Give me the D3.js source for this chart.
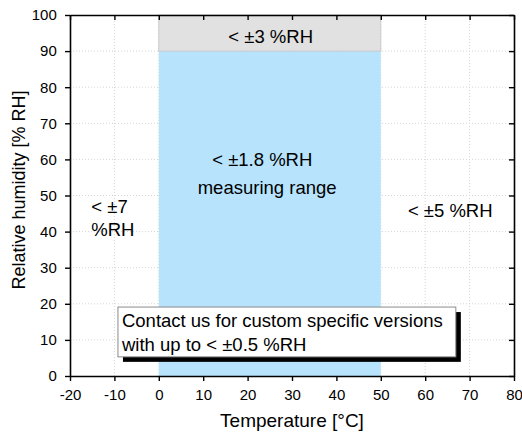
<!DOCTYPE html>
<html>
<head>
<meta charset="utf-8">
<script src="https://cdn.jsdelivr.net/npm/d3@7"></script>
<style>
  body { margin: 0; background: #fff; }
  text { font-family: "Liberation Sans", Arial, sans-serif; fill: #000; }
</style>
</head>
<body>
<svg id="chart" width="522" height="439"></svg>
<script>
// axis ticks
var xTicks = [-20, -10, 0, 10, 20, 30, 40, 50, 60, 70, 80];
var yTicks = [0, 10, 20, 30, 40, 50, 60, 70, 80, 90, 100];

// shaded accuracy regions [temp from, temp to, RH from, RH to]
var regionNames = ["measuring", "high humidity"];
var regionBounds = [[0, 50, 0, 90], [0, 50, 90, 100]];
var regionColors = ["#b7e3fd", "#e1e1e1"];

// annotation texts and their positions in data units [temp, RH]
var labelTexts = ["< \u00b13 %RH", "< \u00b11.8 %RH", "measuring range", "< \u00b17", "%RH", "< \u00b15 %RH"];
var labelPos = [[25.2, 92.2], [23.3, 58.2], [24.4, 50.4], [-15.2, 45.1], [-15.2, 38.7], [56.1, 44]];
var labelAnchor = ["middle", "middle", "middle", "start", "start", "start"];

// note box
var noteLines = ["Contact us for custom specific versions", "with up to < \u00b10.5 %RH"];
var noteBox = [-9.2, 66.9, 5.3, 19.1];

var svg = d3.select("#chart");
var margin = {left: 70, top: 15, right: 8, bottom: 63};
var W = 522, H = 439;

var x = d3.scaleLinear().domain([-20, 80]).range([margin.left, W - margin.right]);
var y = d3.scaleLinear().domain([0, 100]).range([H - margin.bottom, margin.top]);

// grid
var grid = svg.append("g").attr("stroke", "#d6d6d6").attr("stroke-width", 1).attr("stroke-dasharray", "1,2");
grid.selectAll("line.vx").data(xTicks.slice(1, -1)).enter().append("line")
  .attr("x1", function(d) { return x(d); }).attr("x2", function(d) { return x(d); })
  .attr("y1", y(0)).attr("y2", y(100));
grid.selectAll("line.hy").data(yTicks.slice(1, -1)).enter().append("line")
  .attr("y1", function(d) { return y(d); }).attr("y2", function(d) { return y(d); })
  .attr("x1", x(-20)).attr("x2", x(80));

// regions
svg.append("g").selectAll("rect").data(regionBounds).enter().append("rect")
  .attr("x", function(d) { return x(d[0]); })
  .attr("width", function(d) { return x(d[1]) - x(d[0]); })
  .attr("y", function(d) { return y(d[3]); })
  .attr("height", function(d) { return y(d[2]) - y(d[3]); })
  .attr("fill", function(d, i) { return regionColors[i]; })
  .attr("stroke", function(d, i) { return i == 1 ? "#c4c4c4" : "none"; })
  .attr("stroke-width", 0.8);

// axes (plain hyphen for negatives, like the original)
var tickFont = 15;
var plain = function(d) { return String(d); };
var xAxis = svg.append("g").attr("transform", "translate(0," + y(0) + ")")
  .call(d3.axisBottom(x).tickValues(xTicks).tickSize(5).tickSizeOuter(0).tickFormat(plain));
var yAxis = svg.append("g").attr("transform", "translate(" + x(-20) + ",0)")
  .call(d3.axisLeft(y).tickValues(yTicks).tickSize(5).tickSizeOuter(0).tickFormat(plain));
var xTop = svg.append("g").attr("transform", "translate(0," + y(100) + ")")
  .call(d3.axisBottom(x).tickValues(xTicks).tickSize(5).tickSizeOuter(0).tickFormat(""));
var yRight = svg.append("g").attr("transform", "translate(" + x(80) + ",0)")
  .call(d3.axisLeft(y).tickValues(yTicks).tickSize(5).tickSizeOuter(0).tickFormat(""));

[xAxis, yAxis, xTop, yRight].forEach(function(a) {
  a.selectAll("path.domain").attr("stroke", "#000").attr("stroke-width", 1.6);
  a.selectAll(".tick line").attr("stroke", "#000").attr("stroke-width", 1.4);
  a.selectAll(".tick text").attr("font-size", tickFont).attr("font-family", "Liberation Sans, Arial, sans-serif").attr("fill", "#000");
});
xAxis.selectAll(".tick text").attr("dy", "1.05em");
yAxis.selectAll(".tick text").attr("dx", "-0.35em");

// axis titles
svg.append("text").attr("x", (x(-20) + x(80)) / 2).attr("y", 427)
  .attr("text-anchor", "middle").attr("font-size", 19).text("Temperature [\u00b0C]");
svg.append("text").attr("transform", "translate(25,190) rotate(-90)")
  .attr("text-anchor", "middle").attr("font-size", 18).text("Relative humidity [% RH]");

// annotations
svg.append("g").selectAll("text").data(labelTexts).enter().append("text")
  .attr("x", function(d, i) { return x(labelPos[i][0]); })
  .attr("y", function(d, i) { return y(labelPos[i][1]); })
  .attr("text-anchor", function(d, i) { return labelAnchor[i]; })
  .attr("font-size", 18.5)
  .text(function(d) { return d; });

// note box with shadow
var nb = {x: x(noteBox[0]), y: y(noteBox[3]), w: x(noteBox[1]) - x(noteBox[0]), h: y(noteBox[2]) - y(noteBox[3])};
svg.append("rect").attr("x", nb.x + 5).attr("y", nb.y + 5).attr("width", nb.w).attr("height", nb.h).attr("fill", "#000");
svg.append("rect").attr("x", nb.x).attr("y", nb.y).attr("width", nb.w).attr("height", nb.h)
  .attr("fill", "#fff").attr("stroke", "#8a8a8a").attr("stroke-width", 1);
svg.append("g").selectAll("text").data(noteLines).enter().append("text")
  .attr("x", nb.x + 4).attr("y", function(d, i) { return nb.y + 20 + i * 24; })
  .attr("font-size", 18.5)
  .text(function(d) { return d; });
</script>
</body>
</html>
